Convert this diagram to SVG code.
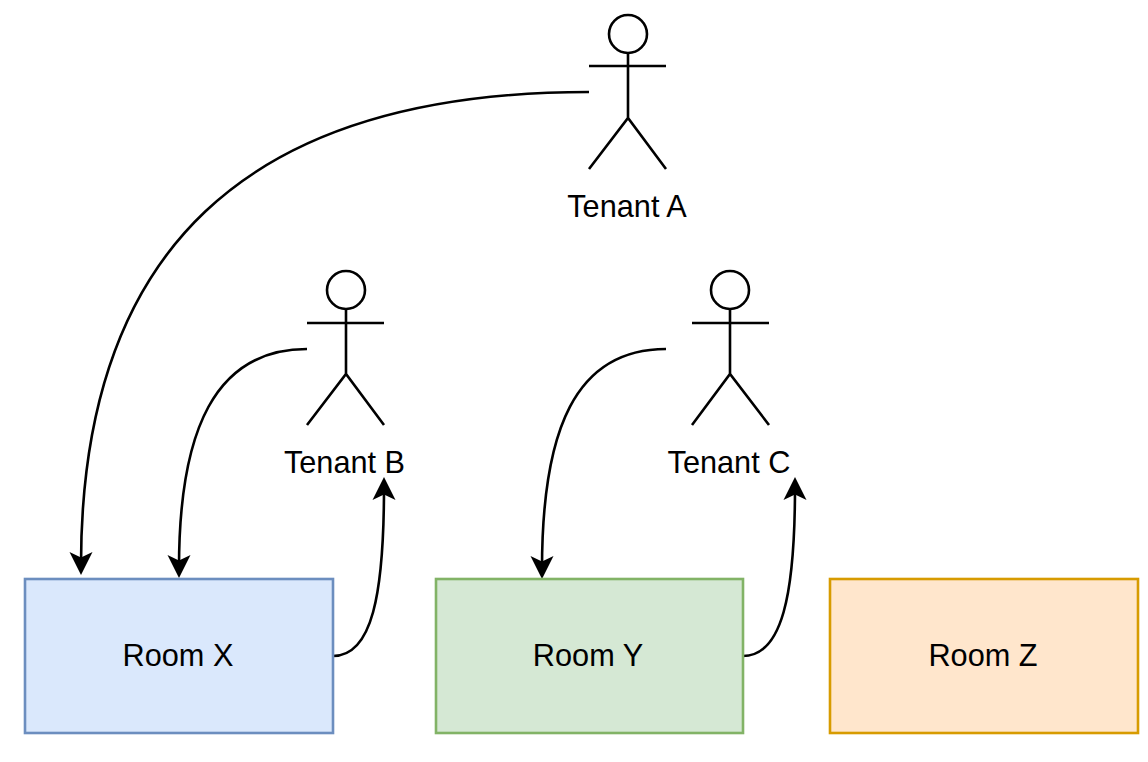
<svg xmlns="http://www.w3.org/2000/svg" width="1148" height="762" viewBox="0 0 1148 762">
<style>
text{font-family:"Liberation Sans",Arial,sans-serif;font-size:30.7px;fill:#000;text-anchor:middle}
.a{fill:#fff;stroke:#000;stroke-width:2.6}
.l{fill:none;stroke:#000;stroke-width:2.6}
.c{fill:none;stroke:#000;stroke-width:2.6;marker-end:url(#h)}
</style>
<defs><marker id="h" markerUnits="userSpaceOnUse" markerWidth="24" markerHeight="24" refX="13" refY="12" orient="auto" viewBox="0 0 24 24"><path d="M0 .5 L23 12 L0 23.500 L5.500 12Z" fill="#000"/></marker></defs>
<rect width="1148" height="762" fill="#fff"/>
<g id="connectors">
<path class="c" d="M589 92C243 92 81 253 81 565"/>
<path class="c" d="M307 349C215 349 179 430 179 568"/>
<path class="c" d="M333 656C372 656 384 595 384 487"/>
<path class="c" d="M666 349C575 349 542 430 542 569"/>
<path class="c" d="M743 656C782 656 795 595 795 487"/>
</g>
<g id="tenant-a"><circle class="a" cx="628" cy="34" r="19"/><path class="l" d="M628 53V118M589 66H666M589 169L628 118L666 169"/><text x="627" y="216.700">Tenant A</text></g>
<g id="tenant-b"><circle class="a" cx="346" cy="290" r="19"/><path class="l" d="M346 309V374M307 323H384M307 425L346 374L384 425"/><text x="344.500" y="472.700">Tenant B</text></g>
<g id="tenant-c"><circle class="a" cx="730" cy="290" r="19"/><path class="l" d="M730 309V374M692 323H769M692 425L730 374L769 425"/><text x="729" y="472.700">Tenant C</text></g>
<g id="room-x"><rect x="25" y="579" width="308" height="154" fill="#dae8fc" stroke="#6c8ebf" stroke-width="2.6"/><text x="178" y="665.700">Room X</text></g>
<g id="room-y"><rect x="436" y="579" width="307" height="154" fill="#d5e8d4" stroke="#82b366" stroke-width="2.6"/><text x="588" y="665.700">Room Y</text></g>
<g id="room-z"><rect x="830" y="579" width="308" height="154" fill="#ffe6cc" stroke="#d79b00" stroke-width="2.6"/><text x="983" y="665.700">Room Z</text></g>
</svg>
